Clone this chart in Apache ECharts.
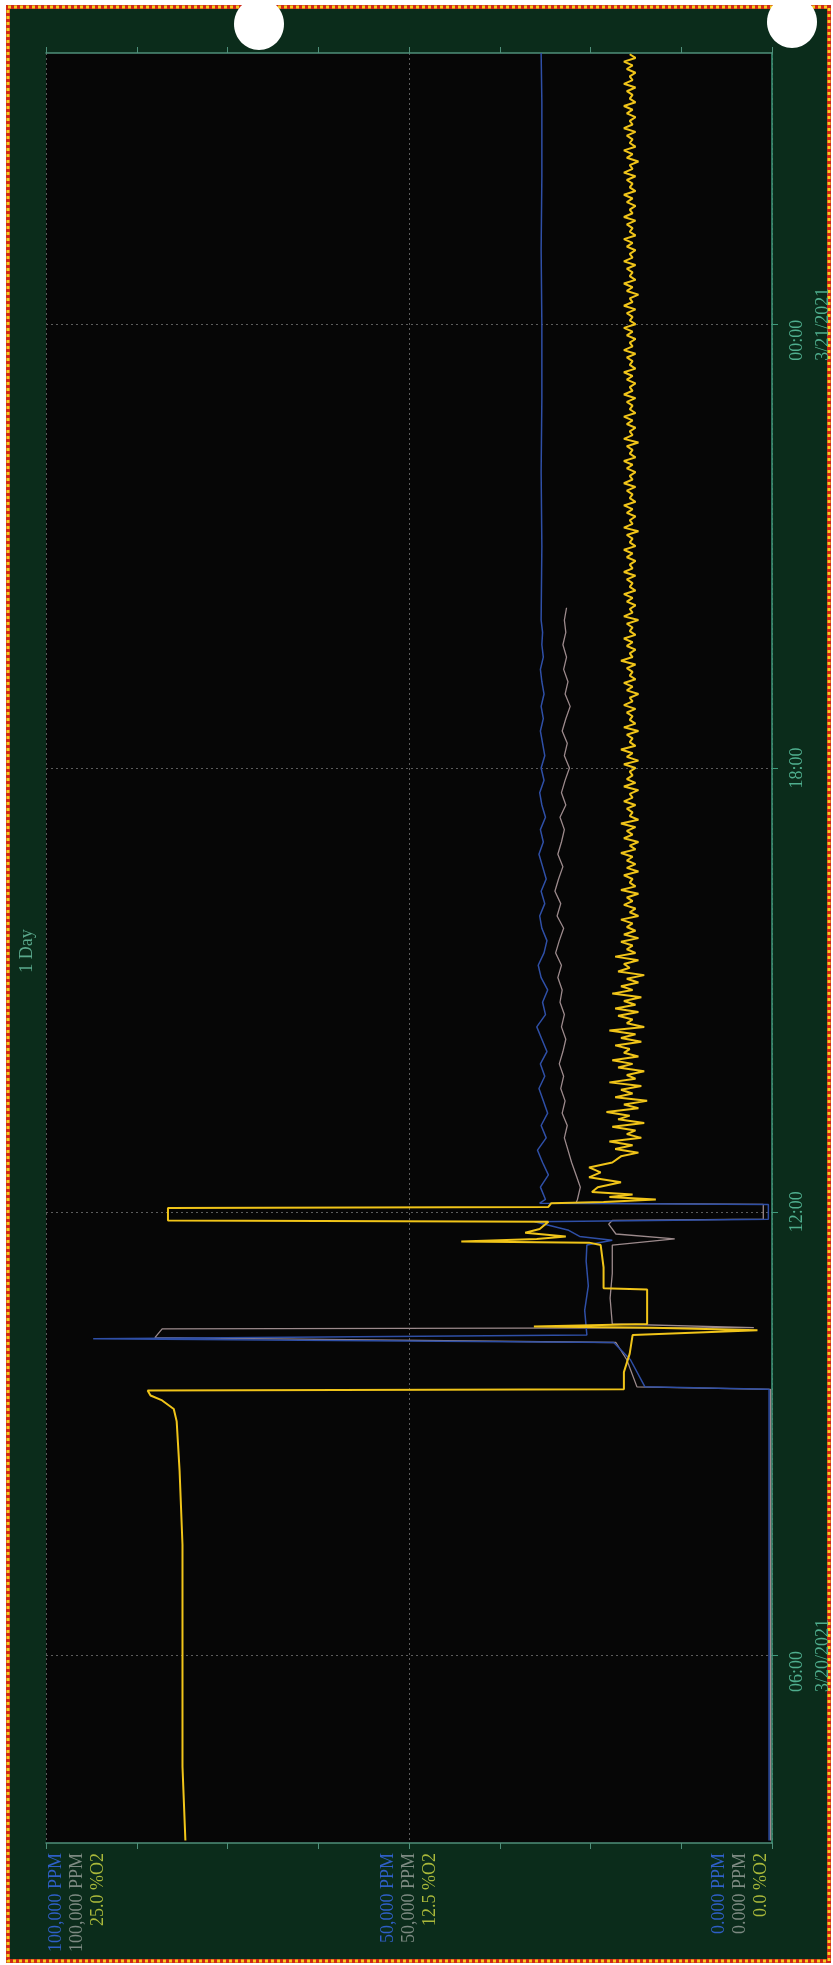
<!DOCTYPE html>
<html>
<head>
<meta charset="utf-8">
<script src="https://cdn.jsdelivr.net/npm/echarts@6/dist/echarts.min.js"></script>
<style>
  html, body { margin: 0; padding: 0; background: #ffffff; }
  #chart { width: 833px; height: 1965px; }
</style>
</head>
<body>
<div id="chart"></div>
<script>
// ---- Value axis tick labels (three stacked scales per tick) ----
const ppmTicks = [0, 50000, 100000];
const ppmTickLabels = ['0.000 PPM', '50,000 PPM', '100,000 PPM'];
const o2TickLabels = ['0.0 %O2', '12.5 %O2', '25.0 %O2'];

// ---- Time axis ticks ----
const timeTickStamps = ['2021-03-20 06:00', '2021-03-20 12:00', '2021-03-20 18:00', '2021-03-21 00:00'];
const timeTickTimes = ['06:00', '12:00', '18:00', '00:00'];
const timeTickDates = ['3/20/2021', '', '', '3/21/2021'];
const timeMin = '2021-03-20 03:28';
const timeMax = '2021-03-21 03:40';

// ---- Oxygen (%O2): logged points through the upset ----
const o2Event = [
  ['2021-03-20 03:30', 20.2], ['2021-03-20 04:30', 20.3], ['2021-03-20 06:00', 20.3],
  ['2021-03-20 07:30', 20.3], ['2021-03-20 08:30', 20.4], ['2021-03-20 09:10', 20.5],
  ['2021-03-20 09:20', 20.6], ['2021-03-20 09:27', 21.0], ['2021-03-20 09:31', 21.4],
  ['2021-03-20 09:35', 21.5], ['2021-03-20 09:36', 5.1], ['2021-03-20 09:50', 5.1],
  ['2021-03-20 10:05', 4.9], ['2021-03-20 10:20', 4.8], ['2021-03-20 10:24', 0.5],
  ['2021-03-20 10:26', 4.1], ['2021-03-20 10:27', 8.2], ['2021-03-20 10:29', 4.3],
  ['2021-03-20 10:57', 4.3], ['2021-03-20 10:58', 5.8], ['2021-03-20 11:15', 5.8],
  ['2021-03-20 11:33', 5.9], ['2021-03-20 11:35', 6.3], ['2021-03-20 11:36', 10.7],
  ['2021-03-20 11:38', 8.1], ['2021-03-20 11:40', 7.1], ['2021-03-20 11:43', 8.5],
  ['2021-03-20 11:46', 8.0], ['2021-03-20 11:52', 7.7], ['2021-03-20 11:53', 20.8],
  ['2021-03-20 12:03', 20.8], ['2021-03-20 12:04', 7.7], ['2021-03-20 12:07', 7.6],
  ['2021-03-20 12:08', 5.8], ['2021-03-20 12:10', 4.0], ['2021-03-20 12:12', 5.6],
  ['2021-03-20 12:14', 4.8], ['2021-03-20 12:16', 6.2], ['2021-03-20 12:20', 6.0],
  ['2021-03-20 12:24', 5.2], ['2021-03-20 12:28', 6.3], ['2021-03-20 12:32', 5.9],
  ['2021-03-20 12:36', 6.3], ['2021-03-20 12:40', 5.5]
];
// Oxygen, 3-minute samples from 12:45 onward (one row per hour)
const o2SampleStart = '2021-03-20 12:45';
const o2SampleStepMin = 3;
const o2Samples = [
  5.2, 4.6, 5.4, 4.8, 5.6, 4.5, 5.0, 4.7, 5.5, 4.4, 5.3, 4.9, 5.7, 4.6, 5.1, 4.3, 5.4, 4.8, 5.2, 4.5,
  5.6, 4.7, 5.0, 4.4, 5.3, 4.8, 5.5, 4.6, 5.1, 4.9, 5.4, 4.5, 5.2, 4.7, 5.6, 4.4, 5.0, 4.8, 5.3, 4.6,
  5.4, 4.7, 5.1, 4.5, 5.5, 4.8, 5.2, 4.6, 5.0, 4.4, 5.3, 4.9, 5.1, 4.6, 5.4, 4.7, 5.0, 4.8, 5.2, 4.6,
  5.1, 4.7, 5.0, 4.8, 5.2, 4.6, 4.9, 4.7, 5.1, 4.8, 5.0, 4.6, 5.2, 4.7, 4.9, 4.8, 5.1, 4.6, 5.0, 4.7,
  5.0, 4.8, 5.2, 4.7, 4.9, 4.6, 5.1, 4.8, 5.0, 4.7, 5.2, 4.6, 4.9, 4.8, 5.0, 4.7, 5.1, 4.8, 4.9, 4.6,
  5.1, 4.7, 5.0, 4.8, 4.9, 4.7, 5.1, 4.6, 5.0, 4.8, 5.2, 4.7, 4.9, 4.8, 5.0, 4.6, 5.1, 4.7, 4.9, 4.8,
  5.0, 4.7, 5.1, 4.8, 4.9, 4.6, 5.0, 4.8, 5.1, 4.7, 4.9, 4.8, 5.0, 4.7, 5.2, 4.8, 4.9, 4.7, 5.0, 4.8,
  5.1, 4.7, 4.9, 4.8, 5.0, 4.6, 5.1, 4.8, 4.9, 4.7, 5.0, 4.8, 5.1, 4.7, 4.9, 4.8, 5.0, 4.7, 5.1, 4.8,
  4.9, 4.7, 5.0, 4.8, 5.1, 4.7, 4.9, 4.8, 5.0, 4.6, 5.1, 4.8, 4.9, 4.7, 5.0, 4.8, 5.1, 4.7, 4.9, 4.8,
  5.0, 4.7, 5.1, 4.8, 4.9, 4.7, 5.0, 4.8, 5.1, 4.7, 4.9, 4.8, 5.0, 4.6, 5.1, 4.8, 4.9, 4.7, 5.0, 4.8,
  5.1, 4.7, 4.9, 4.8, 5.0, 4.7, 5.1, 4.8, 4.9, 4.7, 5.0, 4.8, 5.1, 4.7, 4.9, 4.8, 5.0, 4.7, 5.1, 4.8,
  4.9, 4.7, 5.0, 4.8, 5.1, 4.7, 4.9, 4.8, 5.0, 4.7, 5.1, 4.8, 4.9, 4.6, 5.0, 4.8, 5.1, 4.7, 4.9, 4.8,
  5.0, 4.7, 5.1, 4.8, 4.9, 4.7, 5.0, 4.8, 5.1, 4.7, 4.9, 4.8, 5.0, 4.7, 5.1, 4.8, 4.9, 4.7, 5.0, 4.8,
  5.1, 4.7, 4.9, 4.8, 5.0, 4.7, 5.1, 4.8, 4.9, 4.6, 5.0, 4.8, 5.1, 4.7, 4.9, 4.8, 5.0, 4.7, 5.1, 4.8,
  4.9, 4.7, 5.0, 4.8, 5.1, 4.7, 4.9, 4.8, 5.0, 4.7, 5.1, 4.8, 4.9, 4.7, 5.0, 4.8, 5.1, 4.7, 4.9
];

// ---- Gas 1 (PPM, blue) ----
const gas1Event = [
  ['2021-03-20 03:30', 400], ['2021-03-20 09:36', 400], ['2021-03-20 09:38', 17500],
  ['2021-03-20 10:00', 19500], ['2021-03-20 10:14', 21800], ['2021-03-20 10:17', 93500],
  ['2021-03-20 10:20', 25500], ['2021-03-20 10:40', 25800], ['2021-03-20 11:00', 25300],
  ['2021-03-20 11:20', 25600], ['2021-03-20 11:33', 25500], ['2021-03-20 11:37', 22000],
  ['2021-03-20 11:40', 26500], ['2021-03-20 11:45', 28000], ['2021-03-20 11:52', 32700],
  ['2021-03-20 11:54', 500], ['2021-03-20 12:06', 500], ['2021-03-20 12:07', 32000]
];
const gas1SampleStart = '2021-03-20 12:10';
const gas1SampleStepMin = 10;
const gas1Samples = [
  31200, 31900, 30800, 31600, 32300, 31100, 31800, 30900, 31500, 32100,
  31300, 31900, 31000, 31700, 32400, 31200, 31600, 30900, 31800, 32200,
  31400, 31000, 31700, 32000, 31300, 31800, 31100, 31600, 32100, 31500,
  31900, 31200, 31700, 32000, 31400, 31800, 31300, 31600, 31900, 31500,
  31800, 31400, 31700, 31900, 31500, 31700, 31600, 31800
];
const gas1Late = [
  ['2021-03-20 21:00', 31700], ['2021-03-20 22:00', 31800], ['2021-03-20 23:00', 31700],
  ['2021-03-21 00:00', 31700], ['2021-03-21 01:00', 31800], ['2021-03-21 02:00', 31700],
  ['2021-03-21 03:00', 31700], ['2021-03-21 03:40', 31800]
];

// ---- Gas 2 (PPM, grey) ----
const gas2Event = [
  ['2021-03-20 03:30', 200], ['2021-03-20 09:36', 200], ['2021-03-20 09:38', 18600],
  ['2021-03-20 10:00', 20000], ['2021-03-20 10:14', 21500], ['2021-03-20 10:18', 85000],
  ['2021-03-20 10:25', 84000], ['2021-03-20 10:26', 2500], ['2021-03-20 10:29', 22000],
  ['2021-03-20 10:50', 22300], ['2021-03-20 11:10', 22000], ['2021-03-20 11:33', 22000],
  ['2021-03-20 11:38', 13400], ['2021-03-20 11:42', 21500], ['2021-03-20 11:50', 22500],
  ['2021-03-20 11:53', 22000], ['2021-03-20 11:54', 1200], ['2021-03-20 12:06', 1200],
  ['2021-03-20 12:07', 27000]
];
const gas2SampleStart = '2021-03-20 12:10';
const gas2SampleStepMin = 10;
const gas2Samples = [
  26800, 26400, 27000, 27600, 28100, 28600, 28200, 28900, 28500, 29100,
  28700, 29300, 28800, 28400, 29000, 28600, 29200, 28900, 29500, 29000,
  29800, 29300, 28700, 29600, 29100, 29900, 29400, 28800, 29500, 29000,
  28600, 29200, 28400, 29000, 28500, 27900, 28600, 28200, 28900, 28400,
  27800, 28500, 28100, 28700, 28300, 28800, 28400, 28600, 28300
];

// ---- helpers ----
function ts(s) {
  const [d, t] = s.split(' ');
  const [Y, M, D] = d.split('-').map(Number);
  const [h, m] = t.split(':').map(Number);
  return Date.UTC(Y, M - 1, D, h, m);
}
function eventPoints(list) { return list.map(p => [p[1], ts(p[0])]); }
function samplePoints(start, stepMin, values) {
  const t0 = ts(start);
  return values.map((v, i) => [v, t0 + i * stepMin * 60000]);
}

const o2Data = eventPoints(o2Event).concat(samplePoints(o2SampleStart, o2SampleStepMin, o2Samples));
const gas1Data = eventPoints(gas1Event)
  .concat(samplePoints(gas1SampleStart, gas1SampleStepMin, gas1Samples))
  .concat(eventPoints(gas1Late));
const gas2Data = eventPoints(gas2Event).concat(samplePoints(gas2SampleStart, gas2SampleStepMin, gas2Samples));

const timeTicks = timeTickStamps.map(ts);

const LABEL_FONT = '"Liberation Serif", "DejaVu Serif", serif';
const AXIS_COLOR = '#4f8f7a';
const GRID_COLOR = '#5c5c5c';

const chart = echarts.init(document.getElementById('chart'), null, { renderer: 'canvas' });

chart.setOption({
  animation: false,
  backgroundColor: 'transparent',
  graphic: [
    // printout panel with its dashed frame
    { type: 'rect', z: -10, shape: { x: 8, y: 7, width: 821, height: 1954 },
      style: { fill: '#0b2c1b', stroke: '#d02818', lineWidth: 4 } },
    { type: 'rect', z: -9, shape: { x: 8, y: 7, width: 821, height: 1954 },
      style: { fill: null, stroke: '#f2d01e', lineWidth: 3, lineDash: [3, 3] } },
    // chart title
    { type: 'text', z: 10, x: 27, y: 951, rotation: Math.PI / 2,
      style: { text: '1 Day', fill: '#5aa98d', font: '18px ' + LABEL_FONT, align: 'center', verticalAlign: 'middle' } },
    // binder holes
    { type: 'ellipse', z: 20, shape: { cx: 259, cy: 24, rx: 25, ry: 26 }, style: { fill: '#ffffff' } },
    { type: 'ellipse', z: 20, shape: { cx: 792, cy: 22, rx: 25, ry: 26 }, style: { fill: '#ffffff' } }
  ],
  grid: {
    left: 46, right: 61, top: 53, bottom: 122,
    show: true, backgroundColor: '#060606', borderWidth: 0
  },
  xAxis: [
    { // PPM scale (labels carry all three scales)
      type: 'value', min: 0, max: 100000, interval: 12500, inverse: true, position: 'bottom',
      axisLine: { show: true, lineStyle: { color: AXIS_COLOR, width: 1.5 } },
      axisTick: { show: true, length: 6, lineStyle: { color: AXIS_COLOR } },
      splitLine: { show: false },
      axisLabel: {
        rotate: 90, margin: 10, showMinLabel: true, showMaxLabel: true,
        verticalAlignMinLabel: 'bottom', verticalAlignMaxLabel: 'top',
        formatter: function (v) {
          const i = ppmTicks.indexOf(v);
          if (i < 0) return '';
          return '{b|' + ppmTickLabels[i] + '}\n{g|' + ppmTickLabels[i] + '}\n{y|' + o2TickLabels[i] + '}';
        },
        rich: {
          b: { color: '#2f5fc6', fontSize: 18, lineHeight: 21, fontFamily: LABEL_FONT },
          g: { color: '#7d8a82', fontSize: 18, lineHeight: 21, fontFamily: LABEL_FONT },
          y: { color: '#a9b83a', fontSize: 18, lineHeight: 21, fontFamily: LABEL_FONT }
        }
      }
    },
    { // %O2 scale
      type: 'value', min: 0, max: 25, interval: 3.125, inverse: true, position: 'top',
      axisLine: { show: true, lineStyle: { color: AXIS_COLOR, width: 1.5 } },
      axisTick: { show: true, length: 6, lineStyle: { color: AXIS_COLOR } },
      axisLabel: { show: false },
      splitLine: { show: false }
    },
    { // major value grid lines
      type: 'value', min: 0, max: 2, interval: 1, inverse: true, position: 'bottom',
      axisLine: { show: false }, axisTick: { show: false }, axisLabel: { show: false },
      splitLine: { show: true, lineStyle: { color: GRID_COLOR, width: 1, type: [2, 3] } }
    }
  ],
  yAxis: {
    // time in epoch milliseconds (UTC)
    type: 'value', min: ts(timeMin), max: ts(timeMax), position: 'right',
    axisLine: { show: true, lineStyle: { color: '#3f9a7c', width: 1.5 } },
    axisTick: { show: true, length: 6, customValues: timeTicks, lineStyle: { color: '#3f9a7c' } },
    splitLine: { show: true, lineStyle: { color: GRID_COLOR, width: 1, type: [2, 3] } },
    axisLabel: {
      customValues: timeTicks, rotate: 90, margin: 12,
      formatter: function (v) {
        const i = timeTicks.indexOf(v);
        if (i < 0) return '';
        let s = '{t|' + timeTickTimes[i] + '}';
        if (timeTickDates[i]) s += '\n{d|' + timeTickDates[i] + '}';
        return s;
      },
      rich: {
        t: { color: '#4fae8e', fontSize: 18, lineHeight: 26, fontFamily: LABEL_FONT, align: 'left' },
        d: { color: '#4fae8e', fontSize: 18, lineHeight: 26, fontFamily: LABEL_FONT, align: 'left' }
      }
    }
  },
  series: [
    { name: 'Gas 2', type: 'line', xAxisIndex: 0, showSymbol: false, data: gas2Data,
      lineStyle: { color: '#9c8a8c', width: 1.3 }, itemStyle: { color: '#9c8a8c' } },
    { name: 'Gas 1', type: 'line', xAxisIndex: 0, showSymbol: false, data: gas1Data,
      lineStyle: { color: '#2f4fa6', width: 1.5 }, itemStyle: { color: '#2f4fa6' } },
    { name: 'O2', type: 'line', xAxisIndex: 1, showSymbol: false, data: o2Data,
      lineStyle: { color: '#f0c419', width: 2 }, itemStyle: { color: '#f0c419' } }
  ]
});
</script>
</body>
</html>
